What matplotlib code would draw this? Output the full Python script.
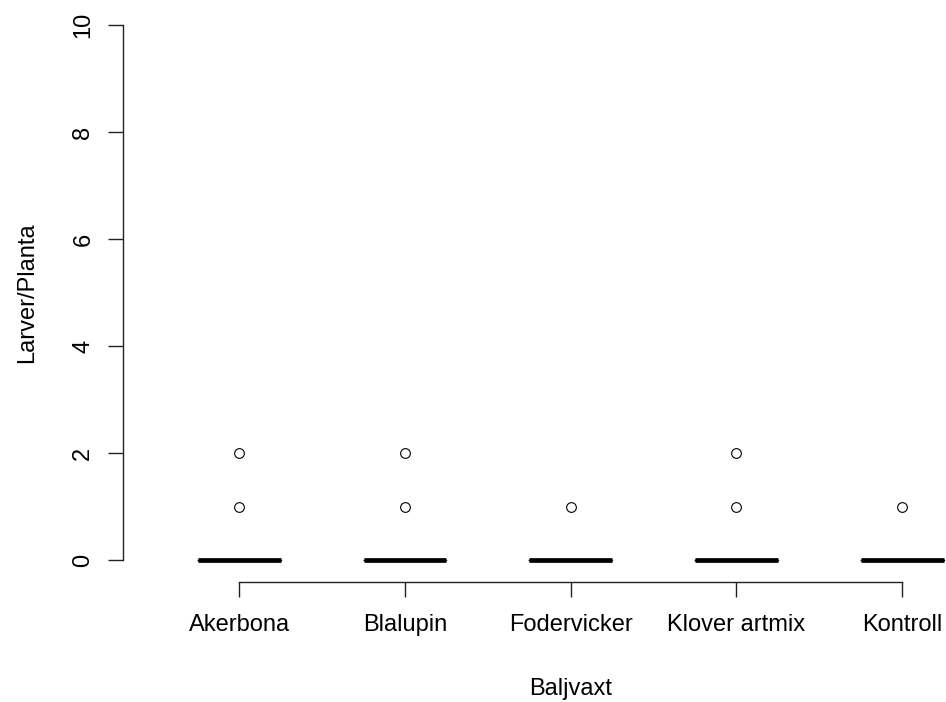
import matplotlib
matplotlib.use("Agg")
import matplotlib.pyplot as plt

# ---- data ----
groups = ["Akerbona", "Blalupin", "Fodervicker", "Klover artmix", "Kontroll"]
medians = [0, 0, 0, 0, 0]
q1 = [0, 0, 0, 0, 0]
q3 = [0, 0, 0, 0, 0]
whislo = [0, 0, 0, 0, 0]
whishi = [0, 0, 0, 0, 0]
outliers = [[1, 2], [1, 2], [1], [1, 2], [1]]
yticks = [0, 2, 4, 6, 8, 10]

plt.rcParams["font.family"] = ["Liberation Sans", "DejaVu Sans"]

fig = plt.figure(figsize=(9.46, 7.02), dpi=100)
ax = fig.add_axes([0.1303, 0.1711, 0.9459, 0.8238])

stats = []
for g, m, a, b, lo, hi, fl in zip(groups, medians, q1, q3, whislo, whishi, outliers):
    stats.append(dict(label=g, med=m, q1=a, q3=b, whislo=lo, whishi=hi, fliers=fl))

positions = list(range(1, len(groups) + 1))
ax.bxp(stats, positions=positions, widths=0.5, showcaps=True,
       boxprops=dict(color="black", linewidth=1.0),
       whiskerprops=dict(color="black", linewidth=1.0, linestyle="--"),
       capprops=dict(color="black", linewidth=1.0),
       medianprops=dict(color="black", linewidth=3.4, solid_capstyle="butt"),
       flierprops=dict(marker="o", markerfacecolor="none", markeredgecolor="black",
                       markersize=7, markeredgewidth=0.8, linestyle="none"))

ax.set_xlim(0.3, 5.7)
ax.set_ylim(-0.4, 10.4)

for s in ["top", "right"]:
    ax.spines[s].set_visible(False)
ax.spines["left"].set_bounds(0, 10)
ax.spines["bottom"].set_bounds(1, 5)
for s in ["left", "bottom"]:
    ax.spines[s].set_linewidth(1.0)
    ax.spines[s].set_color("#222222")

ax.set_xticks(positions)
ax.set_xticklabels(groups)
ax.set_yticks(yticks)
ax.set_yticklabels([str(v) for v in yticks])
ax.tick_params(axis="both", direction="out", length=10.8, width=1.0, color="#222222",
               labelsize=17)
ax.tick_params(axis="x", pad=12)
ax.tick_params(axis="y", pad=10)
for lab in ax.get_yticklabels():
    lab.set_rotation(90)
    lab.set_va("center")

ax.text(0.5, -0.1956, "Baljvaxt", transform=ax.transAxes, ha="center", va="baseline",
        fontsize=17)
ax.text(-0.1009, 0.5, "Larver/Planta", transform=ax.transAxes, ha="center", va="baseline",
        rotation=90, rotation_mode="anchor", fontsize=17)

fig.savefig("out.png", dpi=100)
